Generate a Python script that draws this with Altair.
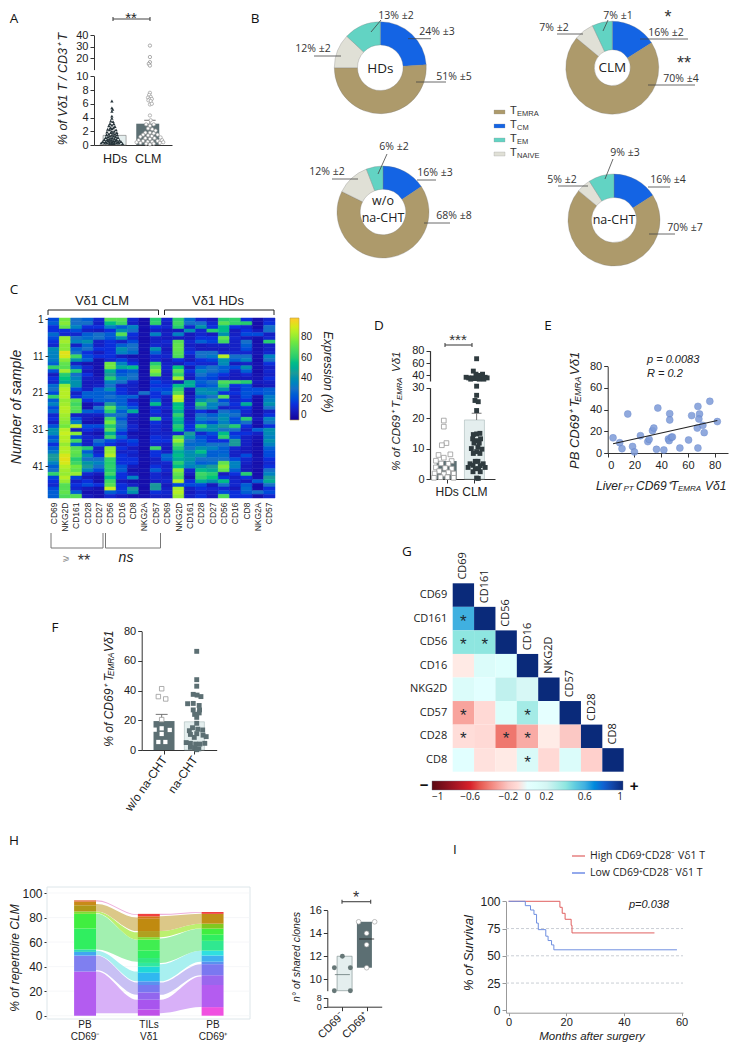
import altair as alt
import pandas as pd

SANS = "Liberation Sans"
OPEN = "Open Sans"
W, H = 724, 1035
DARK = "#5c6f73"
LIGHT = "#e4eeee"
INK = "#222222"

# ---------- data ----------
A_HD = [(0,6.4),(0,5.4),(.02,5.2),(0,4.9),(0,4.2),(0,3.9),(-.03,3.5),(.03,3.4),(-.05,3.1),(.05,3.1),(0,2.9),(-.08,2.8),(.08,2.7),
        (-.04,2.5),(.04,2.5),(0,2.4),(-.11,2.3),(.11,2.2),(-.06,2.2),(.06,2.0),(0,2.0),(-.13,1.9),(.13,1.8),(-.03,1.8),(.03,1.7),
        (-.08,1.6),(.08,1.6),(-.14,1.5),(.14,1.5),(0,1.4),(-.05,1.3),(.05,1.3),(-.1,1.2),(.1,1.2),(-.16,1.1),(.16,1.1),(-.02,1.0),(.02,1.0),
        (-.07,.9),(.07,.9),(-.12,.8),(.12,.8),(-.2,.8),(.2,.7),(0,.7),(-.05,.7),(.05,.6),(-.1,.6),(.1,.6),(-.16,.5),(.16,.5),(-.24,.5),(.24,.5),
        (-.02,.4),(.02,.4),(-.07,.4),(.07,.4),(-.13,.3),(.13,.3),(-.19,.3),(.19,.3),(-.28,.3),(.28,.2),(0,.2),(-.06,.2),(.06,.2)]
A_CLM_HI = [(0,31),(0,21),(0,16.5),(-.03,15),(0,13.5)]
A_CLM_LO = [(0,7.6),(-.02,7.3),(.02,7.0),(-.05,6.9),(0,6.7),(.05,6.7),(-.04,6.5),(.02,6.4),(0,5.9),(.05,6.0),(0,4.3),(.02,3.6),(-.1,3.0),(.1,3.0),
            (0,2.8),(-.05,2.4),(.06,2.3),(.15,2.1),(-.12,1.8),(0,1.8),(.1,1.7),(-.18,1.5),(.2,1.5),(-.05,1.4),(.05,1.3),(-.25,1.2),(.28,1.1),
            (-.12,1.0),(.12,1.0),(0,.9),(-.3,.7),(.32,.7),(-.18,.6),(.2,.6),(-.06,.5),(.06,.5),(-.35,.4),(.35,.4),(-.25,.3),(.26,.3),(-.1,.2),(.1,.2),(0,.1)]

DONUT_NAMES = ["CM", "EMRA", "NAIVE", "EM"]
DONUT_COLORS = ["#1464e4", "#ad9a6b", "#e0e0d6", "#62d3c3"]
HD_SHARE = [24, 51, 12, 13]
CLM_SHARE = [16, 70, 7, 7]
WO_SHARE = [16, 68, 12, 6]
NA_SHARE = [16, 70, 5, 9]

MARKERS = ["CD69","NKG2D","CD161","CD28","CD27","CD56","CD16","CD8","NKG2A","CD57"]
CLM_HEAT = [
 [20,25,15,15,28,20,15,12,38,35, 35,32,25,62,22,8,15,12,28,30, 20,62,25,35,20,28,12,15,10,22, 40,38,22,28,15,25,32,45,45,35, 25,30,62,18,15,12,20,25,25],
 [75,78,72,15,12,80,82,78,78,92, 90,78,72,70,82,60,58,50,80,85, 85,85,80,82,85,85,82,80,78,75, 85,88,85,85,80,85,85,90,92,90, 85,82,80,85,80,70,70,72,68],
 [30,30,35,20,12,30,35,10,25,30, 65,40,10,25,60,30,35,40,40,20, 10,15,70,65,70,68,10,20,35,85, 8,78,20,65,25,70,72,70,60,65, 75,72,80,18,10,15,12,25,70],
 [25,30,15,10,25,28,40,28,30,15, 20,25,5,12,8,15,10,8,8,10, 25,25,15,5,5,25,10,8,5,20, 15,8,12,10,10,60,25,40,30,42, 45,35,12,8,15,20,8,5,8],
 [12,10,15,8,30,30,10,10,15,8, 15,5,5,5,5,5,8,8,10,25, 25,25,25,10,30,20,10,5,5,20, 10,5,10,30,22,10,10,15,30,35, 30,20,8,5,5,15,5,5,5],
 [70,55,35,15,25,22,15,15,15,15, 15,12,75,75,50,45,60,35,30,40, 25,30,25,45,70,60,30,65,75,60, 70,50,65,20,15,80,80,85,62,60, 62,60,65,55,65,70,88,25,12],
 [70,65,25,40,70,40,10,25,40,35, 8,18,35,50,20,25,35,30,10,15, 15,25,25,25,35,25,30,22,30,30, 25,15,25,15,10,15,10,15,15,15, 22,25,15,15,8,15,15,18,8],
 [12,10,35,30,15,12,20,30,30,28, 5,10,15,55,25,30,30,12,10,10, 10,25,10,15,22,50,10,8,8,12, 10,5,8,18,15,8,12,10,15,15, 8,5,8,35,5,10,45,40,5],
 [4,4,5,4,5,4,4,5,5,4, 5,4,4,5,4,5,5,4,4,5, 30,5,4,4,5,4,5,5,4,4, 5,4,4,5,5,4,4,5,5,4, 4,5,4,5,4,5,4,4,5],
 [60,62,15,10,35,10,10,12,40,25, 12,12,60,70,78,70,12,18,15,20, 15,15,25,55,12,15,12,62,15,12, 12,10,15,15,12,65,15,15,10,10, 15,25,12,12,10,45,45,15,10],
]
HD_HEAT = [
 [12,10,12,8,10,8,12,10,8,10, 12,8,10,12,10,8,10,12,15,18, 25,10,8,10,12,8,10,12,8,10, 8,10,12,15,10,8,10,28,25,12, 10,12,8,10,12,8,10,12,10],
 [62,65,60,8,35,8,70,72,72,70, 68,15,8,58,70,62,82,8,55,62, 70,88,85,55,58,50,62,55,50,60, 58,12,70,80,68,60,50,55,50,60, 55,78,72,68,85,20,82,85,80],
 [28,30,12,40,8,8,12,10,12,15, 10,8,15,8,15,10,8,50,50,8, 5,8,8,10,12,8,8,10,12,15, 15,45,40,30,28,30,38,40,42,38, 35,12,8,5,15,20,10,8,10],
 [12,30,42,12,12,15,25,8,8,30, 30,15,12,25,35,30,22,25,20,40, 38,25,40,62,45,15,30,35,25,60, 40,12,20,25,28,40,55,40,30,25, 40,55,65,62,50,20,15,12,15],
 [8,12,15,60,8,15,18,10,8,30, 32,18,12,30,30,22,18,30,25,35, 40,30,45,35,35,8,25,30,20,40, 40,20,15,15,30,35,25,25,30,28, 45,50,60,58,40,8,12,10,8],
 [60,70,55,55,40,72,65,10,8,12, 85,40,38,25,25,15,10,68,60,40, 15,70,20,30,10,30,35,40,35,45, 30,55,62,15,30,25,25,28,30,72, 78,72,8,15,55,30,12,20,68],
 [62,62,15,8,10,12,10,10,10,12, 30,25,8,20,10,8,8,65,15,12, 15,10,12,15,12,25,30,20,22,60, 30,15,20,45,45,12,10,10,20,35, 35,25,15,10,12,12,8,15,15],
 [15,60,12,15,20,8,30,25,20,12, 30,35,10,40,25,12,8,60,20,20, 22,20,15,50,15,12,10,60,30,15, 10,15,10,10,10,8,8,20,12,10, 8,8,60,15,8,25,28,25,15],
 [5,4,4,8,20,5,4,5,5,6, 5,4,5,5,4,5,6,8,5,20, 20,5,4,5,4,4,5,8,5,4, 25,10,6,5,4,5,4,5,6,4, 5,4,4,5,25,4,4,30,5],
 [12,15,30,30,10,12,60,10,10,12, 35,30,15,10,12,10,15,10,8,25, 25,32,35,40,30,10,15,35,30,15, 40,38,35,40,35,25,20,20,15,12, 15,30,35,45,50,30,15,20,12],
]

E_X = [4,9,10.7,15,18.6,20,24.5,30,31,33.5,34.5,36.5,37.5,42,45.4,46,46.4,46.4,47.6,48.4,54,60.5,62.8,67,67.5,67.5,68.7,68.2,71.2,72.2,76.4,82]
E_Y = [14,9.5,4,36,6,1,16,10.5,12.6,20.6,23,3.4,41.5,2.8,13,11.4,36.3,30.5,14.5,14.8,4.6,12,34.5,23,4.6,43,36,31.4,25.5,18.8,47.7,29]
E_FIT_X = [4, 82]
E_FIT_Y = [8.5, 30]

D_HD = [(0,19.2),(0,17.2),(.08,11.8),(-.06,11.1),(.2,8.1),(-.16,7.9),(0,7.0),(-.24,6.0),(.24,5.9),(-.08,5.1),(.14,5.0),(-.24,3.8),(.04,3.6),(.24,3.4),
        (-.14,2.6),(.14,2.2),(-.28,1.8),(.3,1.8),(0,1.6),(-.1,.6),(.11,.6),(-.3,.4),(.3,.4)]
D_CLM = [(0,33),(0,30.5),(0,27.5),(-.05,25.8),(.05,25.4),(0,22.5),(-.1,14.6),(0,14.8),(.1,15),(-.12,13.2),(.12,13.2),(0,12.6),(-.08,11.8),(.08,11.8),
         (-.16,10),(.04,10.5),(.16,9.8),(0,9),(-.1,8.4),(.1,8.4),(-.04,5.8),(.04,5.8),(-.2,5),(.2,5),(-.11,4.5),(.11,4.4),(-.26,3.8),(.26,3.8),
         (-.04,3.4),(.06,3.4),(-.11,2.4),(.11,2.4),(0,.3),(.05,.2)]
D_CLM_HI = [(0,67),(-.1,47),(.18,42),(-.02,42),(.06,40),(-.32,37),(-.24,36),(-.12,36),(-.04,35),(.04,36),(.14,35),(.26,37),(.32,36),(-.18,34),(.08,34),(.22,34)]

F_WO_OPEN = [(0,41.3),(-.095,36),(.115,34.4),(0,20.5)]
F_WO_IN = [(0,14.6),(-.2,13.7),(.23,13.5),(0,10.8),(-.095,5.4),(.105,5.4)]
F_NA = [(0,66.5),(0,47.4),(0,43),(-.1,37.5),(.01,37),(.12,36),(-.26,31.2),(-.1,31.4),(.07,30),(-.1,27),(.08,27),(-.06,24),(.07,25),(0,22),
        (0,18),(-.12,15),(-.21,13),(.03,14),(.17,13.5),(-.18,10.5),(0,11),(.18,10),(-.07,8.5),(.27,9),(-.3,5),(-.18,4.5),(-.03,4),(.09,4),(.23,4.5),(-.18,1.8),
        (-.06,1.5),(.06,.8),(0,.2)]

G_NAMES = ["CD69","CD161","CD56","CD16","NKG2D","CD57","CD28","CD8"]
G_ROWS = [[1],[.6,1],[.4,.4,1],[-.04,.12,.08,1],[.12,.03,.26,.16,1],[-.3,-.12,.1,.34,0,1],[-.1,-.12,-.42,-.28,-.03,-.2,1],[.04,-.08,-.04,.14,-.12,.12,-.16,1]]
G_STARS = [(1,0),(2,0),(2,1),(5,0),(5,3),(6,0),(6,2),(6,3),(7,3)]

H_BAR1 = [(0,36,"#b35cf0"),(36,49,"#7f7ff0"),(49,52,"#40a8f0"),(52,54,"#30d8b8"),(54,71,"#30ee60"),(71,83,"#40ee40"),(83,85,"#7fdd30"),(85,90,"#b09818"),(90,93,"#c88a18"),(93,94,"#e06030")]
H_BAR2 = [(0,5,"#c050e8"),(5,13,"#a855ee"),(13,19,"#9266ee"),(19,25,"#7878f0"),(25,28,"#5a90f0"),(28,35,"#30b8f0"),(35,40,"#20d8d8"),(40,43,"#30e8a0"),(43,47,"#30e880"),(47,53,"#30ee60"),(53,62,"#40ee50"),(62,64,"#80e030"),(64,69,"#b0a020"),(69,79,"#c08a10"),(79,81,"#d07818"),(81,83,"#f04040")]
H_BAR3 = [(0,7,"#f050e0"),(7,25,"#b45cf0"),(25,33,"#9a66ee"),(33,42,"#7a78f0"),(42,44,"#5a90f0"),(44,49,"#40b0f0"),(49,53,"#30e0e0"),(53,61,"#30e890"),(61,66,"#30ee60"),(66,71,"#40ee40"),(71,75,"#80c820"),(75,83,"#c09018"),(83,84.5,"#f04040")]
H_FLOW_L = [("a",2,36,2,13,"#d8b0f8"),("b",37,49,17,27,"#c8c0f4"),("c",49.5,53,28,36,"#a8f0f0"),("d",54,83,44,62,"#a2f0b0"),("e",83.5,85,62,68,"#bcf070"),("f",85,91,69,80,"#dcc888"),("g",93,94,82,82.6,"#eeb0dc")]
H_FLOW_R = [("a",2,13,7,32,"#d8b0f8"),("b",17,27,33,42,"#c8c0f4"),("c",28,42,44,53,"#a8f0f0"),("d",43,63,53,71,"#a2f0b0"),("e",64,69,71,75,"#bcf070"),("f",69,81,75,83,"#dcc888"),("g",82,83,84,84.6,"#eeb0dc")]

H2_MINUS = [(0,12),(-.33,11),(.33,11),(-.33,9),(.33,9)]
H2_PLUS = [(-.33,15),(.33,15),(0,14),(0,13),(0,11)]
H2_MINUS_BOX = (9, 12, 10.4)
H2_PLUS_BOX = (11, 15, 13.5)

I_HIGH_T = [0,17.8,18.6,19.6,21.7,22,50.6]
I_HIGH_S = [100,94.5,89,83.5,78,71,71]
I_LOW_T = [0,5.8,7.6,8.8,9.7,10.3,12.9,13.7,14.9,15.7,58.4]
I_LOW_S = [100,96,92,88,80,74,68,64,60,55.5,55.5]

layers = []

def P(v):
    return v - 8

def qs(d0, d1, r0, r1):
    return alt.Scale(domain=[d0, d1], range=[P(r0), P(r1)], nice=False, zero=False)

AX = dict(grid=False, title=None, domainColor="#333333", tickColor="#333333", labelColor=INK, labelFont=SANS, tickSize=4, labelPadding=2)

def yaxis(x, values, size=11, **kw):
    o = dict(AX); o.update(labelFontSize=size); o.update(kw)
    return alt.Axis(orient="left", offset=-P(x), values=values, **o)

def xaxis(y, values, size=11, **kw):
    o = dict(AX); o.update(labelFontSize=size); o.update(kw)
    return alt.Axis(orient="bottom", offset=P(y) - H, values=values, **o)

def T(text, x, y, size=11, angle=None, italic=False, align="center", color=INK, font=SANS, bold=False):
    kw = dict(fontSize=size, align=align, baseline="middle", color=color, font=font)
    if angle is not None:
        kw["angle"] = angle
    if italic:
        kw["fontStyle"] = "italic"
    if bold:
        kw["fontWeight"] = "bold"
    layers.append(alt.Chart(pd.DataFrame({"t": [text]})).mark_text(**kw).encode(x=alt.value(P(x)), y=alt.value(P(y)), text="t:N"))

def VT(main, sub, tail, x, y0, y1, y2, size):
    T(main, x, y0, size, angle=270, italic=True, align="left")
    T(sub, x + 2.5, y1, size * .68, angle=270, italic=True, align="left")
    T(tail, x, y2, size, angle=270, italic=True, align="left")

def L(x1, y1, x2, y2, color="#444444", w=0.9):
    layers.append(alt.Chart(pd.DataFrame({"a": [0]})).mark_rule(color=color, strokeWidth=w).encode(
        x=alt.value(P(x1)), x2=alt.value(P(x2)), y=alt.value(P(y1)), y2=alt.value(P(y2))))

def bracket(x1, x2, y, h=2):
    L(x1, y, x2, y, "#444444", 1.1)
    L(x1, y - h, x1, y + h, "#444444", 1.1)
    L(x2, y - h, x2, y + h, "#444444", 1.1)

def bar(xs, ys, pos, y0, y1, width, fill, stroke=None, xax=None, yax=None):
    kw = dict(size=width, color=fill, orient="vertical")
    if stroke:
        kw.update(stroke=stroke, strokeWidth=0.6)
    layers.append(alt.Chart(pd.DataFrame({"p": [pos], "a": [y0], "b": [y1]})).mark_bar(**kw).encode(
        x=alt.X("p:Q", scale=xs, axis=xax), y=alt.Y("b:Q", scale=ys, axis=yax), y2="a:Q"))

def swarm(points, centre, xs, ys, shape, size, fill, stroke=None, sw=0.8, xax=None, yax=None):
    df = pd.DataFrame({"p": [centre + a for a, _ in points], "v": [b for _, b in points]})
    kw = dict(shape=shape, size=size, filled=True, fill=fill, opacity=1)
    if stroke:
        kw.update(stroke=stroke, strokeWidth=sw)
    layers.append(alt.Chart(df).mark_point(**kw).encode(
        x=alt.X("p:Q", scale=xs, axis=xax), y=alt.Y("v:Q", scale=ys, axis=yax)))

def errbar(xs, ys, pos, lo, hi, capw=0.17):
    df = pd.DataFrame({"p": [pos], "a": [lo], "b": [hi]})
    layers.append(alt.Chart(df).mark_rule(color="#666666", strokeWidth=0.9).encode(
        x=alt.X("p:Q", scale=xs, axis=None), y=alt.Y("a:Q", scale=ys, axis=None), y2="b:Q"))
    df2 = pd.DataFrame({"p": [pos - capw], "q": [pos + capw], "b": [hi]})
    layers.append(alt.Chart(df2).mark_rule(color="#666666", strokeWidth=0.9).encode(
        x=alt.X("p:Q", scale=xs, axis=None), x2="q:Q", y=alt.Y("b:Q", scale=ys, axis=None)))

def letter(text, x, y):
    T(text, x, y, size=13.5, font=OPEN, color="#111111")

# ---------- A ----------
letter("A", 14, 19)
ax = qs(-.47, 1.58, 94, 172)
ay = qs(0, 10, 145, 76.3)
ay2 = qs(10, 40, 69.6, 35.3)
lab2 = "datum.value==0?'HDs':'CLM'"
bar(ax, ay, 0, 0, 1.4, 23, LIGHT, "#777777",
    xax=xaxis(145, [0, 1], 12.5, labelExpr=lab2, tickSize=0, labelPadding=7),
    yax=yaxis(94, [0, 2, 4, 6, 8, 10], 11))
bar(ax, ay, 1, 0, 3.1, 23, DARK)
errbar(ax, ay, 1, 3.1, 3.6, .15)
swarm(A_HD, 0, ax, ay, "triangle-up", 11, "#26343a")
swarm(A_CLM_LO, 1, ax, ay, "circle", 11, "#ffffff", "#9a9a9a", .7)
swarm(A_CLM_HI, 1, ax, ay2, "circle", 11, "#ffffff", "#8a8a8a", .7, yax=yaxis(94, [20, 30, 40], 11))
bracket(113, 150, 19)
T("**", 131, 18, 15)
T("% of Vδ1 T / CD3⁺ T", 63, 89, 12.5, angle=270, italic=True)

# ---------- B ----------
letter("B", 255, 19)

def donut(share, cx, cy, outer, inner):
    df = pd.DataFrame({"n": DONUT_NAMES, "v": share, "i": [0, 1, 2, 3]})
    layers.append(alt.Chart(df).mark_arc(innerRadius=inner, outerRadius=outer, stroke="#777777", strokeWidth=0.3).encode(
        theta=alt.Theta("v:Q", stack=True),
        order=alt.Order("i:Q"),
        color=alt.Color("n:N", scale=alt.Scale(domain=DONUT_NAMES, range=DONUT_COLORS), legend=None),
        x=alt.value(P(cx)), y=alt.value(P(cy))))

donut(HD_SHARE, 380.3, 67.7, 46, 22.8)
donut(CLM_SHARE, 612.3, 67.7, 46.5, 18)
donut(WO_SHARE, 383, 212, 46, 22.8)
donut(NA_SHARE, 614, 220, 46, 22.5)
T("HDs", 380.3, 69, 13.5, font=OPEN)
T("CLM", 612.3, 68, 13.5, font=OPEN)
T("w/o", 383, 201, 12.5, font=OPEN)
T("na-CHT", 383, 218, 12.5, font=OPEN)
T("na-CHT", 614, 220, 12.5, font=OPEN)

pie_notes = [
 ("13% ±2",396,16,381,20,371,32),("24% ±3",437,32,408,38.7,431,38.7),("12% ±2",313,49,314,56,341,56),("51% ±5",454,77,416,82,446,82),
 ("7% ±1",618,16,608,20,603,31),("7% ±2",554,28,557,34,583,34),("16% ±2",666,33,640,39,688,39),("70% ±4",681,79,648,85,695,85),
 ("6% ±2",394,147,387,154,378,174),("12% ±2",327,172,332,179,358,179),("16% ±3",435,173,417,180,436,180),("68% ±8",454,216,424,223,450,223),
 ("9% ±3",625,153,613,159,605,179),("5% ±2",562,180,558,186,588,186),("16% ±4",668,180,648,187,670,187),("70% ±7",685,228,649,234,675,234),
]
for n in pie_notes:
    L(n[3], n[4], n[5], n[6], "#444444", 0.8)
    T(n[0], n[1], n[2], 10.5, font=OPEN, color="#333333")
T("*", 668, 18, 18, color="#333333")
T("**", 684, 64, 18, color="#333333")

legend_names = [("EMRA", "#ad9a6b", 112), ("CM", "#1464e4", 126), ("EM", "#62d3c3", 140), ("NAIVE", "#e0e0d6", 154)]
for name, col, py in legend_names:
    layers.append(alt.Chart(pd.DataFrame({"n": [name]})).mark_rect(color=col, stroke="#999999", strokeWidth=.3).encode(
        x=alt.value(P(494)), x2=alt.value(P(505)), y=alt.value(P(py - 2)), y2=alt.value(P(py + 2))))
    T("T", 510, py - 1, 11, align="left", color="#333333")
    T(name, 517, py + 2, 7.5, align="left", color="#333333")

# ---------- C ----------
letter("C", 14, 290)
COLOR_DOM = [0, 15, 30, 45, 60, 75, 88, 98]
COLOR_RNG = ["#15009a", "#0b2fdc", "#1570c8", "#1a9a9a", "#25cc70", "#70e840", "#c8f020", "#ffc830"]
rows = list(range(1, 50))

def heat(matrix, x0, x1, with_y, legend):
    recs = [{"m": MARKERS[c], "r": i + 1, "v": v} for c, col in enumerate(matrix) for i, v in enumerate(col)]
    yax = yaxis(48, [1, 11, 21, 31, 41], 10, domain=False, tickSize=3) if with_y else None
    layers.append(alt.Chart(pd.DataFrame(recs)).mark_rect(strokeWidth=.5).encode(
        x=alt.X("m:N", sort=MARKERS, scale=alt.Scale(domain=MARKERS, range=[P(x0), P(x1)], paddingInner=0, paddingOuter=0),
                axis=xaxis(498, MARKERS, 8.5, labelAngle=270, labelAlign="right", labelBaseline="middle", ticks=False, domain=False, labelPadding=4)),
        y=alt.Y("r:O", scale=alt.Scale(domain=rows, range=[P(318), P(498)], paddingInner=0, paddingOuter=0), axis=yax),
        color=alt.Color("v:Q", scale=alt.Scale(domain=COLOR_DOM, range=COLOR_RNG), legend=legend),
        stroke=alt.Stroke("v:Q", scale=alt.Scale(domain=COLOR_DOM, range=COLOR_RNG), legend=None)))

heat(CLM_HEAT, 48, 161.5, True, None)
heat(HD_HEAT, 161.5, 275, False, alt.Legend(orient="none", legendX=P(290), legendY=P(318), direction="vertical", title=None,
     gradientLength=102, gradientThickness=9, values=[0, 20, 40, 60, 80], labelFontSize=10, labelFont=SANS, labelColor=INK,
     gradientStrokeColor="#b8a040", gradientStrokeWidth=.6))
T("Vδ1 CLM", 102, 301, 13, color="#222222")
T("Vδ1 HDs", 218, 301, 13, color="#222222")
for a, b in [(48, 158.5), (164.5, 274)]:
    L(a, 310, b, 310, "#222222", 1)
    L(a, 310, a, 315, "#222222", 1)
    L(b, 310, b, 315, "#222222", 1)
for a, b in [(51, 103), (105.5, 160.5)]:
    L(a, 548, b, 548, "#777777", 1)
    L(a, 533, a, 548, "#777777", 1)
    L(b, 533, b, 548, "#777777", 1)
T("⩾", 66, 558, 9, color="#888888", font="DejaVu Sans")
T("**", 84, 561, 16, color="#333333")
T("ns", 126, 558, 14, italic=True)
T("Number of sample", 17, 407, 14, angle=270, italic=True)
T("Expression (%)", 328, 372, 12, angle=90, italic=True)

# ---------- D ----------
letter("D", 379, 326)
dx = qs(-.42, 1.56, 430, 495)
dy = qs(0, 30, 479, 387.7)
dy2 = qs(31, 80, 381, 350.7)
bar(dx, dy, 0, 0, 5.9, 20, DARK,
    xax=xaxis(479, [0, 1], 12, labelExpr=lab2, labelPadding=3),
    yax=yaxis(430, [0, 10, 20, 30], 11, domainWidth=1.2))
bar(dx, dy, 1, 0, 19.4, 20, LIGHT, "#aabbbb")
errbar(dx, dy, 1, 19.4, 21.6, .15)
swarm(D_HD, 0, dx, dy, "square", 22, "#ffffff", "#999999", .8)
swarm(D_CLM, 1, dx, dy, "square", 24, "#2f3b3f")
swarm(D_CLM_HI, 1, dx, dy2, "square", 24, "#2f3b3f", yax=yaxis(430, [40, 60, 80], 11, domainWidth=1.2))
bracket(445, 472, 345)
T("***", 458, 340, 15, color="#333333")
VT("% of CD69⁺ T", "EMRA", "Vδ1", 397, 470.7, 400, 372, 11.5)

# ---------- E ----------
letter("E", 548, 326)
ex = qs(0, 90, 607.7, 728)
ey = qs(0, 80, 453, 366.3)
layers.append(alt.Chart(pd.DataFrame({"x": E_X, "y": E_Y})).mark_circle(size=48, color="#7d9bd8", opacity=.85, stroke="#5d7fc8", strokeWidth=.5).encode(
    x=alt.X("x:Q", scale=ex, axis=xaxis(453, [0, 20, 40, 60, 80], 11)),
    y=alt.Y("y:Q", scale=ey, axis=yaxis(607.7, [0, 20, 40, 60, 80], 11))))
layers.append(alt.Chart(pd.DataFrame({"x": E_FIT_X, "y": E_FIT_Y})).mark_line(color="#222222", strokeWidth=1.1).encode(
    x=alt.X("x:Q", scale=ex, axis=None), y=alt.Y("y:Q", scale=ey, axis=None)))
T("p = 0.0083", 647, 360, 11, italic=True, align="left")
T("R = 0.2", 647, 374, 11, italic=True, align="left")
VT("PB CD69⁺ T", "EMRA", "Vδ1", 575, 469, 402, 375, 13)
T("Liver", 596, 486, 12, italic=True, align="left")
T("PT", 623.5, 489, 8, italic=True, align="left")
T("CD69⁺T", 636, 486, 12, italic=True, align="left")
T("EMRA", 678, 489, 8, italic=True, align="left")
T("Vδ1", 705, 486, 12, italic=True, align="left")

# ---------- F ----------
letter("F", 55, 628)
fx = qs(-.57, 1.57, 141.7, 216.7)
fy = qs(0, 80, 750, 631.3)
labF = "datum.value==0?'w/o na-CHT':'na-CHT'"
bar(fx, fy, 0, 0, 19.5, 21, DARK,
    xax=xaxis(750, [0, 1], 12, labelExpr=labF, labelAngle=-55, labelAlign="right", labelBaseline="middle", labelPadding=3),
    yax=yaxis(141.7, [0, 20, 40, 60, 80], 11))
bar(fx, fy, 1, 0, 19, 20, LIGHT, "#aabbbb")
errbar(fx, fy, 0, 19.5, 24, .17)
swarm(F_WO_OPEN, 0, fx, fy, "square", 20, "#ffffff", "#999999", .8)
swarm(F_WO_IN, 0, fx, fy, "square", 18, "#ffffff")
swarm(F_NA, 1, fx, fy, "square", 24, DARK)
VT("% of CD69⁺ T", "EMRA", "Vδ1", 109, 746.7, 676, 652, 12)

# ---------- G ----------
letter("G", 407, 552)
G_DOM = [-1, -.6, -.2, 0, .2, .4, .6, .8, 1]
G_RNG = ["#5a0a14", "#d8202a", "#fbc8c4", "#ffffff", "#d4f5f3", "#8ee6e0", "#40b0e0", "#1060d0", "#0a2a7a"]
recs = [{"r": G_NAMES[i], "c": G_NAMES[j], "v": v} for i, row in enumerate(G_ROWS) for j, v in enumerate(row)]
gx = alt.Scale(domain=G_NAMES, range=[P(452.7), P(623.7)], paddingInner=0, paddingOuter=0)
gy = alt.Scale(domain=G_NAMES, range=[P(583.3), P(771.7)], paddingInner=0, paddingOuter=0)
layers.append(alt.Chart(pd.DataFrame(recs)).mark_rect().encode(
    x=alt.X("c:N", scale=gx, axis=None),
    y=alt.Y("r:N", scale=gy, axis=yaxis(452.7, G_NAMES, 11, domain=False, ticks=False, labelFont=OPEN, labelPadding=6)),
    color=alt.Color("v:Q", scale=alt.Scale(domain=G_DOM, range=G_RNG),
                    legend=alt.Legend(orient="none", legendX=P(432), legendY=P(781), direction="horizontal", title=None, gradientLength=191,
                                      gradientThickness=9, values=[-1, -.6, -.2, 0, .2, .6, 1], format="~g", labelFontSize=10, labelFont=OPEN, labelColor=INK,
                                      gradientStrokeColor="#667788", gradientStrokeWidth=.4))))
star_df = pd.DataFrame({"r": [G_NAMES[a] for a, _ in G_STARS], "c": [G_NAMES[b] for _, b in G_STARS], "t": ["*"] * len(G_STARS)})
layers.append(alt.Chart(star_df).mark_text(fontSize=17, color="#1d2b33", dy=3, font=SANS).encode(
    x=alt.X("c:N", scale=gx, axis=None), y=alt.Y("r:N", scale=gy, axis=None), text="t:N"))
head_df = pd.DataFrame({"n": G_NAMES})
layers.append(alt.Chart(head_df).mark_text(fontSize=11, angle=270, align="left", baseline="middle", dx=15.5, color=INK, font=OPEN).encode(
    x=alt.X("n:N", scale=gx, axis=None), y=alt.Y("n:N", scale=gy, axis=None), text="n:N"))
T("−", 424, 785, 15, bold=True, color="#111111")
T("+", 634, 786, 15, bold=True, color="#111111")

# ---------- H ----------
letter("H", 14, 841)
hx = qs(-.597, 2.587, 47, 250)
hy = qs(0, 100, 1015.7, 893)
layers.append(alt.Chart(pd.DataFrame({"a": [0]})).mark_rect(fill="#ffffff", stroke="#dde6ea", strokeWidth=1).encode(
    x=alt.value(P(47)), x2=alt.value(P(250)), y=alt.value(P(887)), y2=alt.value(P(1019))))
layers.append(alt.Chart(pd.DataFrame({"g": [0, 20, 40, 60, 80, 100]})).mark_rule(color="#f2f4f6", strokeWidth=.7).encode(
    y=alt.Y("g:Q", scale=hy, axis=yaxis(47, [0, 20, 40, 60, 80, 100], 12, domain=False, tickSize=3)),
    x=alt.value(P(47)), x2=alt.value(P(250))))

def flows(table, a, b):
    recs = []
    for name, l0, l1, r0, r1, _c in table:
        recs += [{"f": name, "x": a, "y0": l0, "y1": l1}, {"f": name, "x": a + .02, "y0": l0, "y1": l1},
                 {"f": name, "x": b - .02, "y0": r0, "y1": r1}, {"f": name, "x": b, "y0": r0, "y1": r1}]
    layers.append(alt.Chart(pd.DataFrame(recs)).mark_area(interpolate="monotone").encode(
        x=alt.X("x:Q", scale=hx, axis=None), y=alt.Y("y1:Q", scale=hy, axis=None), y2="y0:Q",
        color=alt.Color("f:N", scale=alt.Scale(domain=[r[0] for r in table], range=[r[5] for r in table]), legend=None)))

flows(H_FLOW_L, .17, .83)
flows(H_FLOW_R, 1.17, 1.83)

def stack(segments, pos):
    df = pd.DataFrame({"p": [pos - .172] * len(segments), "q": [pos + .172] * len(segments),
                       "a": [s[0] for s in segments], "b": [s[1] for s in segments], "c": [s[2] for s in segments]})
    layers.append(alt.Chart(df).mark_rect().encode(
        x=alt.X("p:Q", scale=hx, axis=None), x2="q:Q", y=alt.Y("b:Q", scale=hy, axis=None), y2="a:Q",
        color=alt.Color("c:N", scale=None, legend=None)))

stack(H_BAR1, 0)
stack(H_BAR2, 1)
stack(H_BAR3, 2)
for x, a, b in [(85, "PB", "CD69⁻"), (149, "TILs", "Vδ1"), (213, "PB", "CD69⁺")]:
    T(a, x, 1025, 10)
    T(b, x, 1036.5, 10)
T("% of repertoire CLM", 15, 958, 12, angle=270, italic=True)

# ---------- H2 ----------
h2x = qs(-.62, 1.62, 327.3, 381.7)
h2y = qs(9, 16, 990.7, 910.3)
h2y0 = qs(0, 8, 1006.7, 997.7)
labH = "datum.value==0?'CD69⁻':'CD69⁺'"
bar(h2x, h2y, 0, H2_MINUS_BOX[0], H2_MINUS_BOX[1], 15, LIGHT, "#778888",
    yax=yaxis(327.3, [10, 12, 14, 16], 11))
bar(h2x, h2y, 1, H2_PLUS_BOX[0], H2_PLUS_BOX[1], 15, DARK)
for pos, val, col in [(0, H2_MINUS_BOX[2], "#667777"), (1, H2_PLUS_BOX[2], "#222222")]:
    layers.append(alt.Chart(pd.DataFrame({"p": [pos - .31], "q": [pos + .31], "v": [val]})).mark_rule(color=col, strokeWidth=.8).encode(
        x=alt.X("p:Q", scale=h2x, axis=None), x2="q:Q", y=alt.Y("v:Q", scale=h2y, axis=None)))
swarm(H2_MINUS, 0, h2x, h2y, "circle", 24, "#667777")
swarm(H2_PLUS, 1, h2x, h2y, "circle", 22, "#ffffff", "#999999", .6)
layers.append(alt.Chart(pd.DataFrame({"p": [0, 1], "v": [0, 8]})).mark_point(opacity=0).encode(
    x=alt.X("p:Q", scale=h2x, axis=xaxis(1006.7, [0, 1], 11, labelExpr=labH, labelAngle=-45, labelAlign="right", labelBaseline="middle", labelPadding=3)),
    y=alt.Y("v:Q", scale=h2y0, axis=yaxis(327.3, [0, 8], 9))))
bracket(342, 370.7, 901.7)
T("*", 356, 898, 16, color="#333333")
T("n° of shared clones", 296.7, 957, 10.5, angle=270, italic=True)

# ---------- I ----------
letter("I", 455, 850)
ix = qs(-.9, 60.5, 506, 683)
iy = qs(-2.2, 100, 1012.7, 901.3)
layers.append(alt.Chart(pd.DataFrame({"g": [25, 50, 75]})).mark_rule(color="#c4c8d0", strokeDash=[3, 2], strokeWidth=.9).encode(
    y=alt.Y("g:Q", scale=iy, axis=None), x=alt.value(P(506)), x2=alt.value(P(683))))
layers.append(alt.Chart(pd.DataFrame({"t": I_HIGH_T, "s": I_HIGH_S})).mark_line(interpolate="step-after", color="#e06060", strokeWidth=1).encode(
    x=alt.X("t:Q", scale=ix, axis=xaxis(1012.7, [0, 20, 40, 60], 11, domainColor="#999999", tickColor="#999999", tickSize=3, labelPadding=1)),
    y=alt.Y("s:Q", scale=iy, axis=yaxis(506, [0, 25, 50, 75, 100], 12, domainColor="#999999", tickColor="#999999"))))
layers.append(alt.Chart(pd.DataFrame({"t": I_LOW_T, "s": I_LOW_S})).mark_line(interpolate="step-after", color="#6f8fe0", strokeWidth=1).encode(
    x=alt.X("t:Q", scale=ix, axis=None), y=alt.Y("s:Q", scale=iy, axis=None)))
L(572, 856, 585, 856, "#e06060", 1.2)
L(572, 873, 585, 873, "#4a6fe0", 1.2)
T("High CD69⁺CD28⁻ Vδ1 T", 590, 856, 10.5, align="left", font=OPEN)
T("Low CD69⁺CD28⁻ Vδ1 T", 590, 873, 10.5, align="left", font=OPEN)
T("p=0.038", 649, 905, 11, italic=True)
T("% of Survival", 469, 953, 13, angle=270, italic=True)
T("Months after surgery", 592, 1037, 11.5, italic=True)

chart = alt.layer(*layers).resolve_scale(
    x="independent", y="independent", color="independent", theta="independent"
).properties(width=W, height=H, padding=0, autosize=alt.AutoSizeParams(type="none"), background="#ffffff"
).configure_view(stroke=None)

chart.save("out.html", embed_options={"renderer": "svg", "actions": False})
